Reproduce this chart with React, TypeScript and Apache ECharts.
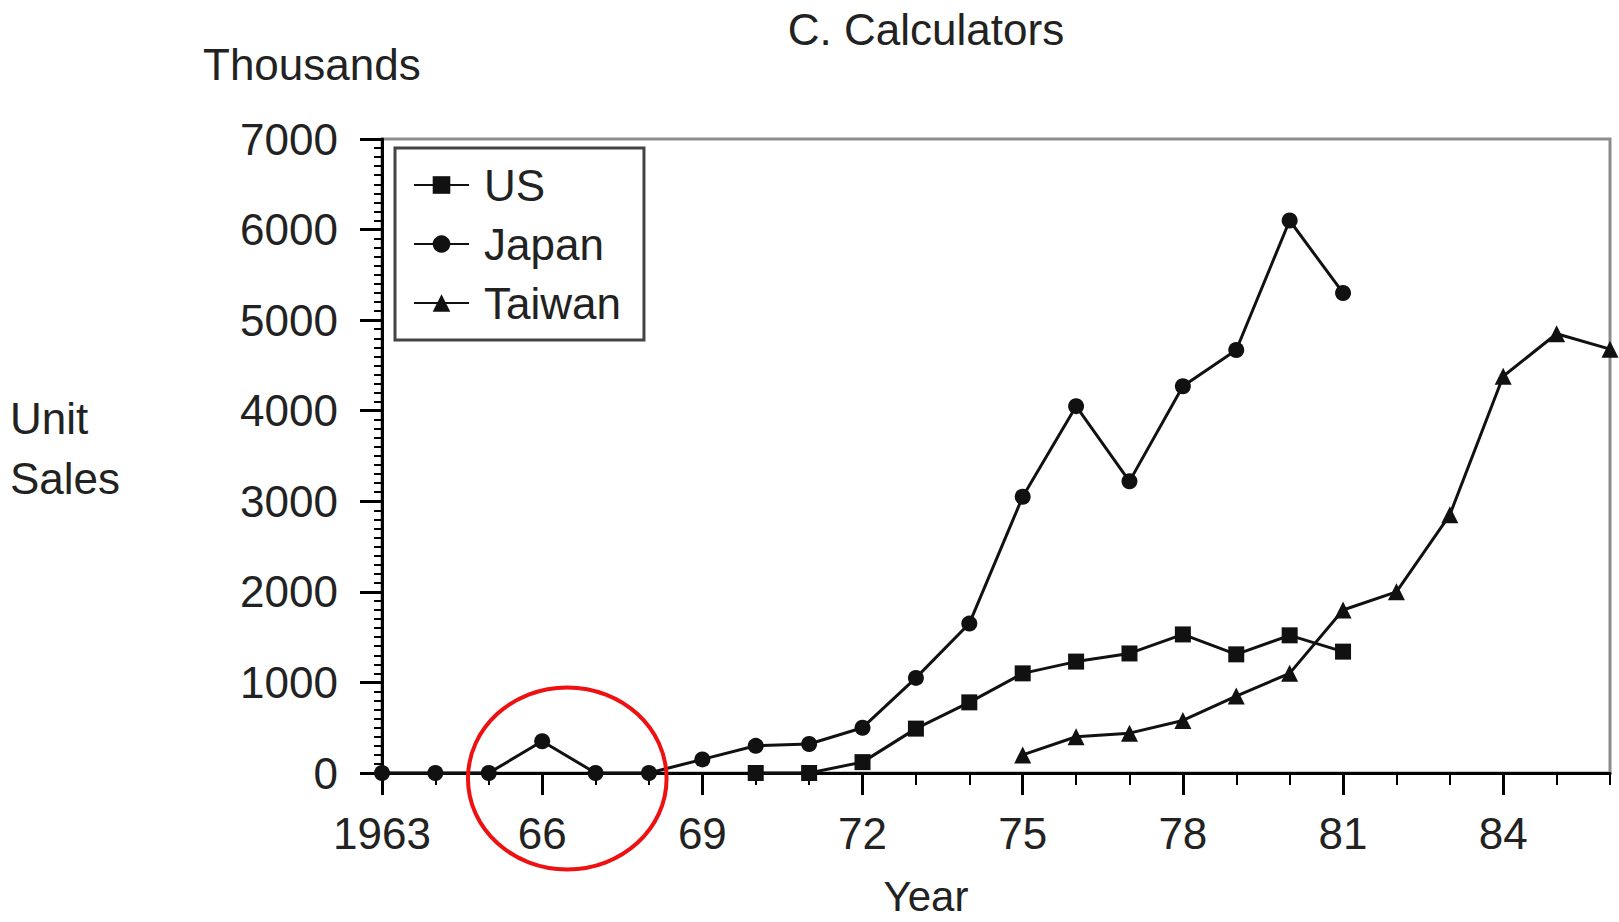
import React, { useEffect, useRef } from "react";
import * as echarts from "echarts";

// ---- Data ----
const CATEGORIES = [
  "1963", "1964", "1965", "1966", "1967", "1968", "1969", "1970", "1971", "1972", "1973", "1974",
  "1975", "1976", "1977", "1978", "1979", "1980", "1981", "1982", "1983", "1984", "1985", "1986",
];

const US_YEARS = ["1970", "1971", "1972", "1973", "1974", "1975", "1976", "1977", "1978", "1979", "1980", "1981"];
const US_VALUES = [0, 0, 120, 490, 780, 1100, 1230, 1320, 1530, 1310, 1520, 1340];

const JAPAN_YEARS = [
  "1963", "1964", "1965", "1966", "1967", "1968", "1969", "1970", "1971", "1972",
  "1973", "1974", "1975", "1976", "1977", "1978", "1979", "1980", "1981",
];
const JAPAN_VALUES = [0, 0, 0, 350, 0, 0, 150, 300, 320, 500, 1050, 1650, 3050, 4050, 3220, 4270, 4670, 6100, 5300];

const TAIWAN_YEARS = ["1975", "1976", "1977", "1978", "1979", "1980", "1981", "1982", "1983", "1984", "1985", "1986"];
const TAIWAN_VALUES = [200, 400, 440, 580, 850, 1100, 1800, 2000, 2850, 4380, 4850, 4680];

const Y_MIN = 0;
const Y_MAX = 7000;
const Y_INTERVAL = 1000;

// annotation (red ellipse) in data units: centre year index offset, value, radii
const ANNOT_CENTER_INDEX = 3.47;
const ANNOT_CENTER_VALUE = -60;
const ANNOT_RX_YEARS = 1.86;
const ANNOT_RY_VALUE = 1005;

const FONT = "'Liberation Sans', Arial, Helvetica, sans-serif";
const TEXT_COLOR = "#222";
const LINE_COLOR = "#111";

function pairs(years: string[], values: number[]) {
  return years.map((y, i) => [y, values[i]]);
}

export default function App() {
  const ref = useRef<HTMLDivElement>(null);

  useEffect(() => {
    if (!ref.current) return;
    const chart = echarts.init(ref.current, null, { renderer: "svg" });

    const seriesCommon = {
      type: "line" as const,
      xAxisIndex: 0,
      yAxisIndex: 0,
      symbolSize: 16,
      showAllSymbol: true,
      lineStyle: { color: LINE_COLOR, width: 3 },
      itemStyle: { color: LINE_COLOR },
      emphasis: { disabled: true },
      clip: false,
    };

    const textEl = (text: string, x: number, y: number, align: string, size = 44) => ({
      type: "text",
      x,
      y,
      style: {
        text,
        font: `${size}px ${FONT}`,
        fill: TEXT_COLOR,
        textAlign: align,
        textVerticalAlign: "middle",
        align,
        verticalAlign: "middle",
      },
    });

    const texts = [
      textEl("C. Calculators", 926, 29, "center"),
      textEl("Thousands", 203, 64, "left"),
      textEl("Unit", 10, 418, "left"),
      textEl("Sales", 10, 478, "left"),
      textEl("Year", 926, 896, "center", 42),
    ];

    chart.setOption({
      animation: false,
      backgroundColor: "#fff",
      grid: {
        left: 382,
        right: 9,
        top: 139,
        bottom: 149,
        show: true,
        borderColor: "#8c8c8c",
        borderWidth: 3,
        backgroundColor: "transparent",
      },
      legend: {
        orient: "vertical",
        left: 395,
        top: 148,
        padding: [15, 23, 15, 18],
        itemGap: 15,
        itemWidth: 55,
        itemHeight: 22,
        borderColor: "#444",
        borderWidth: 3,
        backgroundColor: "#fff",
        data: ["US", "Japan", "Taiwan"],
        textStyle: {
          fontSize: 44,
          fontFamily: FONT,
          color: TEXT_COLOR,
          lineHeight: 44,
          padding: [0, 0, 0, 10],
        },
      },
      xAxis: [
        {
          type: "category",
          data: CATEGORIES,
          boundaryGap: false,
          position: "bottom",
          axisLine: { show: true, onZero: false, lineStyle: { color: "#000", width: 3 } },
          axisTick: { show: true, interval: 0, length: 12, lineStyle: { color: "#000", width: 2 } },
          axisLabel: {
            interval: 2,
            margin: 38,
            fontSize: 44,
            fontFamily: FONT,
            color: TEXT_COLOR,
            formatter: (v: string, i: number) => (i === 0 ? v : v.slice(2)),
          },
          splitLine: { show: false },
        },
        {
          type: "category",
          data: CATEGORIES,
          boundaryGap: false,
          position: "bottom",
          axisLine: { show: false },
          axisTick: { show: true, interval: 2, length: 22, lineStyle: { color: "#000", width: 3 } },
          axisLabel: { show: false },
          splitLine: { show: false },
        },
      ],
      yAxis: {
        type: "value",
        min: Y_MIN,
        max: Y_MAX,
        interval: Y_INTERVAL,
        axisLine: { show: true, lineStyle: { color: "#000", width: 3 } },
        axisTick: { show: true, length: 22, lineStyle: { color: "#000", width: 3 } },
        minorTick: { show: true, splitNumber: 10, length: 8, lineStyle: { color: "#000", width: 2 } },
        axisLabel: {
          margin: 44,
          fontSize: 44,
          fontFamily: FONT,
          color: TEXT_COLOR,
          formatter: (v: number) => String(v),
        },
        splitLine: { show: false },
        minorSplitLine: { show: false },
      },
      series: [
        { ...seriesCommon, name: "US", symbol: "rect", data: pairs(US_YEARS, US_VALUES) },
        { ...seriesCommon, name: "Japan", symbol: "circle", data: pairs(JAPAN_YEARS, JAPAN_VALUES) },
        { ...seriesCommon, name: "Taiwan", symbol: "triangle", symbolSize: 17, data: pairs(TAIWAN_YEARS, TAIWAN_VALUES) },
      ],
      graphic: texts,
    });

    // red annotation ellipse positioned through the axes' scales
    const p0 = chart.convertToPixel({ xAxisIndex: 0, yAxisIndex: 0 }, [0, 0]) as number[];
    const p1 = chart.convertToPixel({ xAxisIndex: 0, yAxisIndex: 0 }, [1, 1000]) as number[];
    const unitX = p1[0] - p0[0];
    const unitY = (p0[1] - p1[1]) / 1000;
    const cx = p0[0] + ANNOT_CENTER_INDEX * unitX;
    const cy = p0[1] - ANNOT_CENTER_VALUE * unitY;
    chart.setOption({
      graphic: [
        ...texts,
        {
          type: "ellipse",
          shape: { cx, cy, rx: ANNOT_RX_YEARS * unitX, ry: ANNOT_RY_VALUE * unitY },
          style: { fill: "none", stroke: "#ee1111", lineWidth: 4 },
          z: 100,
        },
      ],
    });

    return () => {
      chart.dispose();
    };
  }, []);

  return (
    <div
      ref={ref}
      style={{ position: "fixed", left: 0, top: 0, width: 1619, height: 922, background: "#fff" }}
    />
  );
}
